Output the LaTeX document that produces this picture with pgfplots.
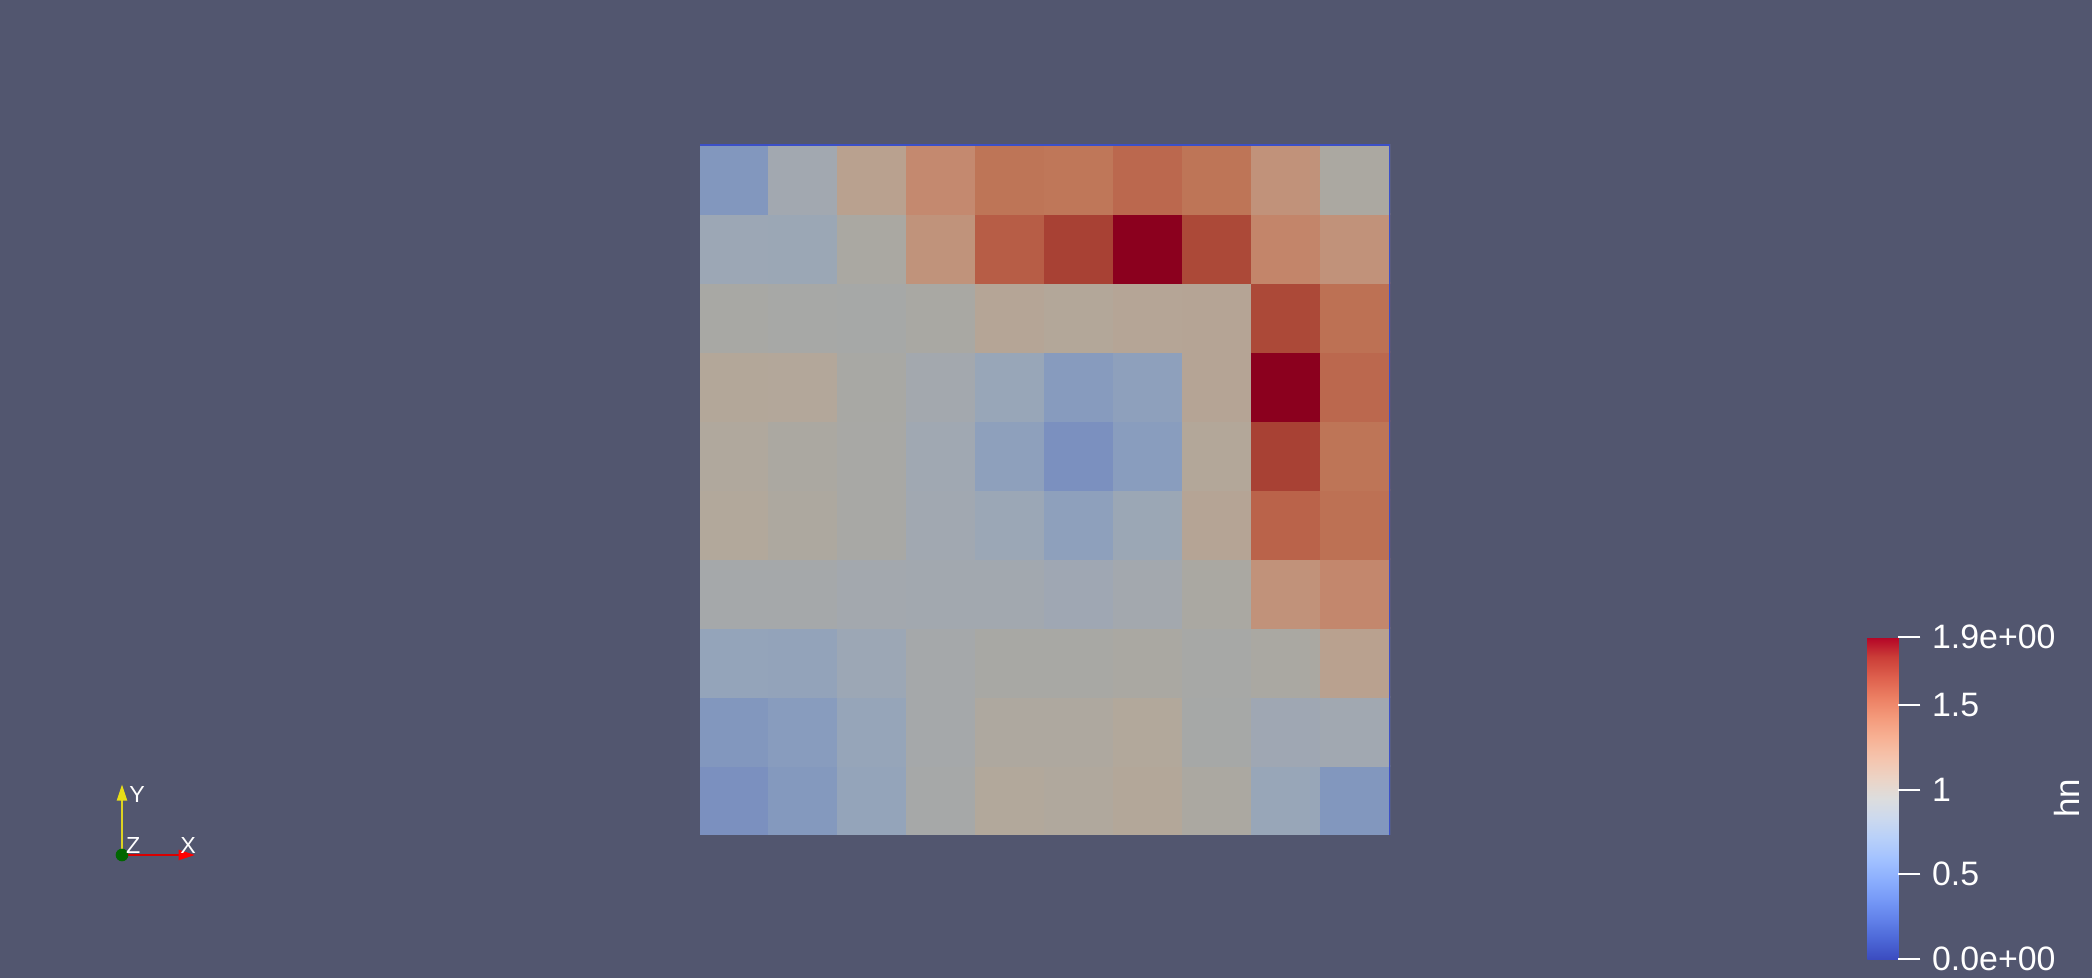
\documentclass[border=0pt]{standalone}
\usepackage{pgfplots}
\pgfplotsset{compat=1.18}
\usepackage{fontspec}
\setmainfont{Liberation Sans}
\usetikzlibrary{calc}
\definecolor{bgc}{RGB}{82,86,111}
\definecolor{edgeblue}{RGB}{60,80,200}
\pgfplotstableread{
x y v
0.5 0.5 0.40
1.5 0.5 0.50
2.5 0.5 0.66
3.5 0.5 0.95
4.5 0.5 1.10
5.5 0.5 1.08
6.5 0.5 1.12
7.5 0.5 1.03
8.5 0.5 0.70
9.5 0.5 0.48
0.5 1.5 0.48
1.5 1.5 0.54
2.5 1.5 0.68
3.5 1.5 0.93
4.5 1.5 1.06
5.5 1.5 1.06
6.5 1.5 1.10
7.5 1.5 0.96
8.5 1.5 0.80
9.5 1.5 0.84
0.5 2.5 0.66
1.5 2.5 0.65
2.5 2.5 0.76
3.5 2.5 0.92
4.5 2.5 1.00
5.5 2.5 1.00
6.5 2.5 1.02
7.5 2.5 0.97
8.5 2.5 1.02
9.5 2.5 1.20
0.5 3.5 0.93
1.5 3.5 0.92
2.5 3.5 0.88
3.5 3.5 0.86
4.5 3.5 0.86
5.5 3.5 0.80
6.5 3.5 0.87
7.5 3.5 1.02
8.5 3.5 1.35
9.5 3.5 1.46
0.5 4.5 1.10
1.5 4.5 1.05
2.5 4.5 0.99
3.5 4.5 0.84
4.5 4.5 0.74
5.5 4.5 0.60
6.5 4.5 0.75
7.5 4.5 1.15
8.5 4.5 1.65
9.5 4.5 1.57
0.5 5.5 1.08
1.5 5.5 1.03
2.5 5.5 0.99
3.5 5.5 0.82
4.5 5.5 0.60
5.5 5.5 0.40
6.5 5.5 0.55
7.5 5.5 1.12
8.5 5.5 1.76
9.5 5.5 1.55
0.5 6.5 1.12
1.5 6.5 1.11
2.5 6.5 1.00
3.5 6.5 0.88
4.5 6.5 0.70
5.5 6.5 0.53
6.5 6.5 0.60
7.5 6.5 1.15
8.5 6.5 1.90
9.5 6.5 1.62
0.5 7.5 1.00
1.5 7.5 0.98
2.5 7.5 0.96
3.5 7.5 1.01
4.5 7.5 1.14
5.5 7.5 1.12
6.5 7.5 1.14
7.5 7.5 1.15
8.5 7.5 1.74
9.5 7.5 1.57
0.5 8.5 0.76
1.5 8.5 0.75
2.5 8.5 1.02
3.5 8.5 1.34
4.5 8.5 1.67
5.5 8.5 1.76
6.5 8.5 1.90
7.5 8.5 1.74
8.5 8.5 1.47
9.5 8.5 1.35
0.5 9.5 0.48
1.5 9.5 0.85
2.5 9.5 1.20
3.5 9.5 1.45
4.5 9.5 1.55
5.5 9.5 1.54
6.5 9.5 1.62
7.5 9.5 1.55
8.5 9.5 1.35
9.5 9.5 1.03
}\hndata
\pgfplotsset{
  colormap={muted}{
    rgb255(0cm)=(105,125,190);
    rgb255(8cm)=(123,144,191);
    rgb255(11cm)=(137,157,190);
    rgb255(14cm)=(152,166,184);
    rgb255(17cm)=(162,168,176);
    rgb255(20cm)=(168,168,164);
    rgb255(22cm)=(178,168,155);
    rgb255(24cm)=(185,161,143);
    rgb255(27cm)=(193,146,122);
    rgb255(29cm)=(196,137,111);
    rgb255(31cm)=(190,117,87);
    rgb255(33cm)=(186,99,74);
    rgb255(35cm)=(170,70,54);
    rgb255(38cm)=(139,0,30)
  },
  colormap={coolwarm}{
    rgb255=(59,76,192)
    rgb255=(77,104,215)
    rgb255=(98,130,234)
    rgb255=(119,154,247)
    rgb255=(141,176,254)
    rgb255=(163,194,255)
    rgb255=(184,208,249)
    rgb255=(204,217,238)
    rgb255=(221,221,221)
    rgb255=(236,211,197)
    rgb255=(245,196,173)
    rgb255=(247,177,148)
    rgb255=(244,154,123)
    rgb255=(236,127,99)
    rgb255=(222,96,77)
    rgb255=(203,62,56)
    rgb255=(180,4,38)
  },
}
\begin{document}
\begin{tikzpicture}
\fill[bgc] (0,0) rectangle (627.6bp,293.4bp);
\begin{axis}[
  name=main,
  at={(210bp,42.9bp)}, anchor=south west,
  scale only axis, width=207bp, height=207bp,
  xmin=0, xmax=10, ymin=0, ymax=10,
  hide axis,
  colormap name=muted,
  point meta min=0, point meta max=1.9,
  colorbar,
  colorbar style={
    colormap name=coolwarm,
    at={($(parent axis.south west)+(341.7bp,-37.2bp)$)}, anchor=south west,
    width=9.3bp, height=96.6bp,
    ytick={0,0.5,1,1.5,1.9},
    yticklabels={0.0e+00,0.5,1,1.5,1.9e+00},
    ytick pos=right,
    yticklabel pos=right,
    tick align=outside,
    major tick length=6.6bp,
    ytick style={white, line width=0.6bp},
    axis line style={draw=none},
    yticklabel style={font=\fontsize{10.2}{12}\selectfont, text=white, anchor=west},
    ylabel={hn},
    ylabel style={at={(axis description cs:6.42,0.5)}, anchor=center, rotate=0, font=\fontsize{10.5}{12}\selectfont, text=white},
  },
]
\addplot[matrix plot*, mesh/cols=10, point meta=explicit] table[x=x, y=y, meta=v] {\hndata};
\draw[edgeblue, line width=0.6bp] (axis cs:0,10) -- (axis cs:10,10) -- (axis cs:10,0);
\end{axis}
% orientation triad
\draw[red!85!black, line width=0.4bp] (36.6bp,36.9bp) -- (54bp,36.9bp);
\fill[red] (53.6bp,38.5bp) -- (58.4bp,36.9bp) -- (53.6bp,35.3bp) -- cycle;
\draw[yellow!85!black, line width=0.4bp] (36.6bp,36.9bp) -- (36.6bp,53.5bp);
\fill[yellow!90!black] (35bp,53.2bp) -- (36.6bp,58bp) -- (38.2bp,53.2bp) -- cycle;
\fill[green!40!black] (36.6bp,36.9bp) circle (1.9bp);
\node[text=white, font=\fontsize{7}{8}\selectfont, anchor=west, inner sep=0pt] at (38.6bp,55bp) {Y};
\node[text=white, font=\fontsize{7}{8}\selectfont, anchor=south west, inner sep=0pt] at (37.6bp,37.2bp) {Z};
\node[text=white, font=\fontsize{7}{8}\selectfont, anchor=south, inner sep=0pt] at (56.4bp,37.2bp) {X};
\pgfresetboundingbox
\path (0,0) rectangle (627.6bp,293.4bp);
\end{tikzpicture}
\end{document}
